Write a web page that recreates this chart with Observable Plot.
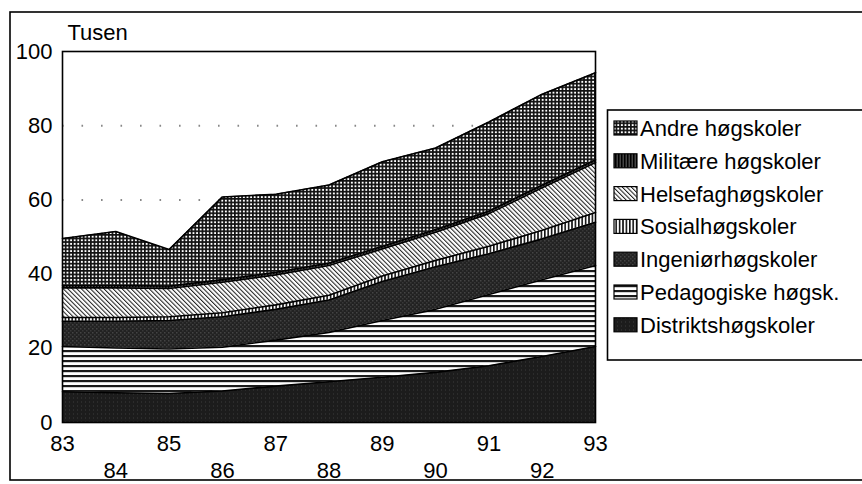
<!DOCTYPE html>
<html>
<head>
<meta charset="utf-8">
<script src="https://cdn.jsdelivr.net/npm/d3@7"></script>
<script src="https://cdn.jsdelivr.net/npm/@observablehq/plot@0.6"></script>
<style>
  html, body { margin: 0; padding: 0; background: #fff; }
  #chart { position: relative; width: 862px; height: 484px; overflow: hidden; }
  svg text { font-family: "Liberation Sans", Arial, Helvetica, sans-serif; }
</style>
</head>
<body>
<svg width="0" height="0" style="position:absolute">
  <defs>
    <pattern id="pA" patternUnits="userSpaceOnUse" width="3.6" height="3.6">
      <rect width="3.6" height="3.6" fill="#fff"/>
      <rect width="3.6" height="1.7" fill="#111"/>
      <rect width="1.7" height="3.6" fill="#111"/>
    </pattern>
    <pattern id="pM" patternUnits="userSpaceOnUse" width="3" height="3">
      <rect width="3" height="3" fill="#444"/>
      <rect width="1.5" height="3" fill="#000"/>
    </pattern>
    <pattern id="pH" patternUnits="userSpaceOnUse" width="3.2" height="3.2" patternTransform="rotate(-45)">
      <rect width="3.2" height="3.2" fill="#fff"/>
      <rect width="1.05" height="3.2" fill="#222"/>
    </pattern>
    <pattern id="pS" patternUnits="userSpaceOnUse" width="3.4" height="3.4">
      <rect width="3.4" height="3.4" fill="#fff"/>
      <rect width="1.6" height="3.4" fill="#111"/>
    </pattern>
    <pattern id="pI" patternUnits="userSpaceOnUse" width="4" height="4">
      <rect width="4" height="4" fill="#222"/>
      <rect x="0" y="0" width="1.5" height="1.5" fill="#444"/>
      <rect x="2" y="2" width="1.5" height="1.5" fill="#383838"/>
    </pattern>
    <pattern id="pP" patternUnits="userSpaceOnUse" width="5" height="5">
      <rect width="5" height="5" fill="#fff"/>
      <rect y="0" width="5" height="2.2" fill="#1a1a1a"/>
    </pattern>
    <pattern id="pD" patternUnits="userSpaceOnUse" width="4" height="4">
      <rect width="4" height="4" fill="#1c1c1c"/>
      <rect x="1" y="1" width="1" height="2" fill="#2c2c2c"/>
    </pattern>
  </defs>
</svg>
<div id="chart"></div>
<script>
// ---- data (thousands of students), years 1983–1993 ----
const years = [83, 84, 85, 86, 87, 88, 89, 90, 91, 92, 93];
const distrikts   = [8.3, 8.0, 7.8, 8.5, 9.8, 11.0, 12.2, 13.5, 15.3, 17.8, 20.5];
const pedagogiske = [12.2, 12.1, 12.0, 11.8, 12.4, 13.3, 15.3, 17.0, 19.2, 20.7, 21.8];
const ingenior    = [6.8, 7.2, 7.7, 8.2, 8.3, 8.7, 10.5, 11.5, 11.0, 11.0, 11.7];
const sosial      = [1.0, 1.0, 1.0, 1.1, 1.2, 1.3, 1.5, 1.7, 2.0, 2.3, 2.6];
const helsefag    = [8.0, 8.0, 7.6, 8.2, 8.1, 8.0, 7.3, 7.6, 8.8, 11.5, 13.5];
const militare    = [0.7, 0.7, 0.7, 0.7, 0.7, 0.7, 0.7, 0.7, 0.7, 0.7, 0.7];
const andre       = [12.6, 14.5, 9.8, 22.3, 21.0, 21.0, 22.8, 22.0, 24.0, 24.5, 23.5];

// bottom to top
const seriesNames = ["Distriktshøgskoler", "Pedagogiske høgsk.", "Ingeniørhøgskoler",
  "Sosialhøgskoler", "Helsefaghøgskoler", "Militære høgskoler", "Andre høgskoler"];
const seriesValues = [distrikts, pedagogiske, ingenior, sosial, helsefag, militare, andre];
const seriesFills = ["url(#pD)", "url(#pP)", "url(#pI)", "url(#pS)", "url(#pH)", "url(#pM)", "url(#pA)"];

const yTicks = [0, 20, 40, 60, 80, 100];
const xTicksTop = [83, 85, 87, 89, 91, 93];
const xTicksBottom = [84, 86, 88, 90, 92];
const gridLevels = [20, 40, 60, 80];

const table = [];
seriesNames.forEach((name, i) => {
  years.forEach((yr, j) => table.push({series: name, year: yr, value: seriesValues[i][j], fill: seriesFills[i]}));
});

const stackOpts = {x: "year", y: "value", z: "series", order: seriesNames};

const plot = Plot.plot({
  width: 862,
  height: 484,
  marginLeft: 62,
  marginRight: 267,
  marginTop: 51,
  marginBottom: 62,
  style: {fontSize: "22px", fontFamily: "Liberation Sans, Arial, Helvetica, sans-serif", color: "#000", background: "#fff"},
  x: {domain: [83, 93]},
  y: {domain: [0, 100]},
  color: {type: "identity"},
  marks: [
    Plot.ruleY(gridLevels, {stroke: "#888", strokeWidth: 2, strokeDasharray: "1.6,17.9"}),
    Plot.areaY(table, Plot.stackY({...stackOpts, fill: "fill"})),
    Plot.lineY(table, Plot.stackY2({...stackOpts, stroke: "#000", strokeWidth: 1.6})),
    Plot.frame({stroke: "#000", strokeWidth: 1.6}),
    Plot.axisY({ticks: yTicks, tickSize: 0, tickPadding: 10, label: null, fontSize: 22}),
    Plot.axisX({ticks: xTicksTop, tickSize: 0, tickPadding: 13, label: null, fontSize: 22, tickFormat: d => String(d)}),
    Plot.axisX({ticks: xTicksBottom, tickSize: 0, tickPadding: 40, label: null, fontSize: 22, tickFormat: d => String(d)}),
    Plot.text(["Tusen"], {frameAnchor: "top-left", dx: 5, dy: -19, lineAnchor: "middle", textAnchor: "start", fontSize: 22})
  ]
});

document.getElementById("chart").appendChild(plot);

// outer border and legend drawn into the same SVG
const svg = d3.select(plot);
svg.append("rect").attr("x", 10).attr("y", 12).attr("width", 865).attr("height", 468)
  .attr("fill", "none").attr("stroke", "#000").attr("stroke-width", 1.6);

const lg = svg.append("g").attr("text-anchor", "start");
lg.append("rect").attr("x", 607.5).attr("y", 110).attr("width", 262).attr("height", 250)
  .attr("fill", "#fff").attr("stroke", "#000").attr("stroke-width", 1.6);
const legendOrder = seriesNames.map((n, i) => ({name: n, fill: seriesFills[i]})).reverse();
legendOrder.forEach((d, i) => {
  const cy = 128 + i * 32.8;
  lg.append("rect").attr("x", 614).attr("y", cy - 7).attr("width", 23).attr("height", 14)
    .attr("fill", d.fill).attr("stroke", "#000").attr("stroke-width", 1.2);
  lg.append("text").attr("x", 640).attr("y", cy).attr("dy", "0.36em")
    .attr("text-anchor", "start").attr("font-size", 22).attr("fill", "#000").text(d.name);
});
</script>
</body>
</html>
